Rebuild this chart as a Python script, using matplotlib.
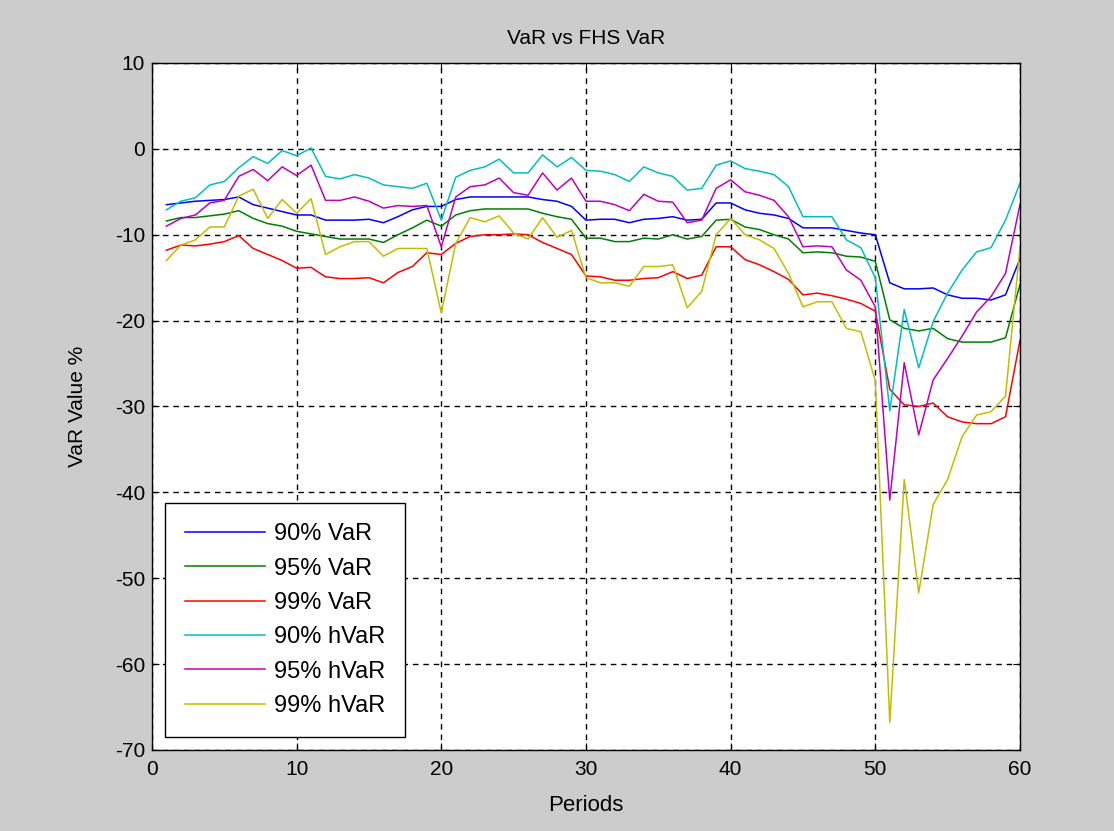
import numpy as np
import matplotlib.pyplot as plt

plt.rcParams['font.family'] = ['Liberation Sans', 'DejaVu Sans']
plt.rcParams['axes.unicode_minus'] = False

periods = np.arange(1, 61)

var90 = [-6.5, -6.3, -6.1, -6.0, -5.9, -5.6, -6.5, -6.9, -7.3, -7.7,
         -7.7, -8.3, -8.3, -8.3, -8.2, -8.6, -7.9, -7.1, -6.7, -6.7,
         -5.9, -5.6, -5.6, -5.6, -5.6, -5.6, -5.9, -6.1, -6.7, -8.3,
         -8.2, -8.2, -8.6, -8.2, -8.1, -7.9, -8.3, -8.2, -6.3, -6.3,
         -7.1, -7.5, -7.7, -8.1, -9.2, -9.2, -9.2, -9.5, -9.8, -10.0,
         -15.6, -16.3, -16.3, -16.2, -17.0, -17.4, -17.4, -17.6, -17.0, -12.8]

var95 = [-8.4, -8.0, -8.0, -7.8, -7.6, -7.2, -8.1, -8.7, -9.0, -9.6,
         -9.9, -10.2, -10.5, -10.5, -10.5, -10.9, -10.0, -9.2, -8.3, -9.0,
         -7.7, -7.2, -7.0, -7.0, -7.0, -7.0, -7.5, -7.9, -8.2, -10.4,
         -10.4, -10.8, -10.8, -10.4, -10.5, -10.0, -10.5, -10.2, -8.3, -8.2,
         -9.1, -9.4, -10.0, -10.5, -12.1, -12.0, -12.1, -12.5, -12.6, -13.1,
         -19.9, -20.9, -21.2, -20.9, -22.1, -22.5, -22.5, -22.5, -22.0, -15.8]

var99 = [-11.8, -11.2, -11.3, -11.1, -10.8, -10.1, -11.6, -12.3, -13.0, -13.9,
         -13.8, -14.9, -15.1, -15.1, -15.0, -15.6, -14.4, -13.7, -12.1, -12.3,
         -11.0, -10.2, -10.0, -10.0, -9.9, -10.0, -10.9, -11.6, -12.3, -14.8,
         -14.9, -15.3, -15.3, -15.1, -15.0, -14.3, -15.1, -14.7, -11.4, -11.4,
         -12.9, -13.5, -14.3, -15.2, -17.0, -16.8, -17.1, -17.5, -18.0, -18.9,
         -28.0, -29.8, -30.0, -29.6, -31.2, -31.8, -32.0, -32.0, -31.2, -22.3]

hvar90 = [-7.1, -6.1, -5.7, -4.2, -3.8, -2.2, -0.9, -1.7, -0.2, -0.8,
          0.1, -3.2, -3.5, -3.0, -3.4, -4.2, -4.4, -4.6, -4.0, -8.3,
          -3.3, -2.5, -2.1, -1.2, -2.8, -2.8, -0.7, -2.1, -1.0, -2.5,
          -2.6, -3.0, -3.8, -2.1, -2.8, -3.2, -4.8, -4.6, -1.9, -1.4,
          -2.3, -2.6, -3.0, -4.4, -7.9, -7.9, -7.9, -10.6, -11.5, -15.0,
          -30.5, -18.7, -25.5, -20.1, -16.8, -14.1, -12.0, -11.5, -8.3, -4.0]

hvar95 = [-9.0, -8.1, -7.7, -6.3, -6.0, -3.2, -2.4, -3.7, -2.1, -3.1,
          -1.9, -6.0, -6.0, -5.6, -6.1, -6.9, -6.6, -6.7, -6.6, -11.4,
          -5.6, -4.4, -4.2, -3.4, -5.1, -5.4, -2.8, -4.8, -3.4, -6.1,
          -6.1, -6.5, -7.2, -5.3, -6.1, -6.2, -8.6, -8.3, -4.6, -3.6,
          -5.0, -5.4, -6.0, -7.9, -11.4, -11.3, -11.4, -14.1, -15.3, -18.4,
          -40.9, -24.9, -33.3, -26.9, -24.4, -21.8, -19.0, -17.2, -14.5, -6.5]

hvar99 = [-13.0, -11.2, -10.6, -9.1, -9.1, -5.5, -4.7, -8.1, -5.9, -7.5,
          -5.8, -12.3, -11.4, -10.8, -10.8, -12.5, -11.6, -11.6, -11.6, -19.1,
          -11.0, -8.0, -8.5, -7.8, -9.8, -10.5, -8.0, -10.3, -9.5, -15.0,
          -15.6, -15.6, -16.0, -13.7, -13.7, -13.5, -18.5, -16.6, -10.0, -8.1,
          -10.0, -10.6, -11.6, -14.5, -18.4, -17.8, -17.8, -20.9, -21.3, -27.0,
          -66.8, -38.5, -51.7, -41.4, -38.5, -33.5, -31.0, -30.6, -28.8, -11.5]

series = [var90, var95, var99, hvar90, hvar95, hvar99]
labels = ['90% VaR', '95% VaR', '99% VaR', '90% hVaR', '95% hVaR', '99% hVaR']
colors = ['#0000ff', '#008000', '#ff0000', '#00bfbf', '#bf00bf', '#bfbf00']

fig = plt.figure(figsize=(11.14, 8.31), dpi=100, facecolor='#cccccc')
ax = fig.add_axes([0.1364, 0.0975, 0.7792, 0.8267])
ax.set_facecolor('white')

for vals, lab, col in zip(series, labels, colors):
    ax.plot(periods, vals, color=col, lw=1.1, label=lab)

ax.set_xlim(0, 60)
ax.set_ylim(-70, 10)
ax.set_xticks(np.arange(0, 61, 10))
ax.set_yticks(np.arange(-70, 11, 10))
ax.grid(True, color='black', linestyle=(0, (4, 3.5)), lw=1.0)
ax.tick_params(direction='in', top=True, right=True, length=5, labelsize=15)
ax.tick_params(axis='x', pad=7)
ax.tick_params(axis='y', pad=5)
for sp in ax.spines.values():
    sp.set_color('black')
    sp.set_linewidth(1.0)

ax.set_title('VaR vs FHS VaR', fontsize=15, pad=14)
ax.set_xlabel('Periods', fontsize=16, labelpad=12)
ax.set_ylabel('VaR Value %', fontsize=15, labelpad=20)

leg = ax.legend(loc='lower left', bbox_to_anchor=(0.015, 0.019), borderaxespad=0,
                fontsize=17, fancybox=False, framealpha=1, edgecolor='black',
                handlelength=3.4, handletextpad=0.35, labelspacing=0.52, borderpad=0.85)
leg.get_frame().set_linewidth(1.0)

fig.savefig('out.png', dpi=100, facecolor=fig.get_facecolor())
